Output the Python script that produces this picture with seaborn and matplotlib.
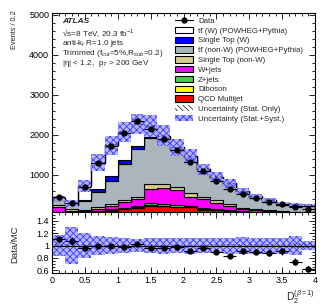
import matplotlib
matplotlib.use("Agg")
import matplotlib.pyplot as plt
from matplotlib.patches import Patch
from matplotlib.lines import Line2D
from matplotlib.ticker import MultipleLocator, FormatStrFormatter
import numpy as np
import pandas as pd
import seaborn as sns

# binning of D2 (beta=1), 0.2 wide
edges = np.round(np.arange(0, 4.01, 0.2), 1)
centers = 0.5 * (edges[1:] + edges[:-1])

data = [458, 304, 700, 1292, 1725, 2042, 2350, 2138, 1905, 1637,
        1332, 1100, 846, 655, 535, 417, 330, 270, 192, 153]

# MC backgrounds (events per bin)
tt_w = [6, 21, 354, 663, 767, 709, 557, 265, 96, 28, 22, 15, 20, 19, 8, 13, 12, 10, 7, 5]
stop_w = [35, 20, 25, 67, 117, 100, 75, 45, 55, 50, 50, 40, 40, 35, 30, 30, 28, 25, 22, 20]
tt_nonw = [127, 95, 226, 385, 582, 908, 1192, 1153, 1064, 912,
           850, 634, 515, 461, 376, 272, 220, 167, 145, 144]
stop_nonw = [55, 45, 25, 30, 45, 35, 65, 120, 85, 80, 85, 65, 65, 50, 30, 25, 15, 10, 10, 8]
wjets = [135, 45, 30, 65, 90, 150, 160, 355, 410, 365, 220, 215, 160, 110, 50, 50, 40, 38, 35, 37]
zjets = [15, 12, 15, 20, 25, 35, 45, 50, 50, 45, 40, 35, 30, 25, 20, 15, 12, 10, 8, 6]
diboson = [3, 3, 4, 5, 6, 7, 8, 9, 9, 8, 7, 6, 5, 4, 4, 3, 3, 2, 2, 2]
qcd = [40, 40, 50, 70, 110, 140, 180, 230, 215, 200, 190, 135, 115, 85, 70, 55, 45, 35, 30, 25]

# relative uncertainties on the MC total
syst_rel = [0.17, 0.30, 0.20, 0.16, 0.14, 0.12, 0.11, 0.12, 0.13, 0.12,
            0.13, 0.12, 0.12, 0.13, 0.14, 0.13, 0.13, 0.13, 0.15, 0.07]
stat_rel = [0.02, 0.03, 0.02, 0.015, 0.015, 0.012, 0.012, 0.012, 0.013, 0.014,
            0.015, 0.016, 0.018, 0.02, 0.022, 0.025, 0.028, 0.03, 0.035, 0.04]

labels = ["tt\u0304 (W) (POWHEG+Pythia)", "Single Top (W)",
          "tt\u0304 (non-W) (POWHEG+Pythia)", "Single Top (non-W)",
          "W+jets", "Z+jets", "Diboson", "QCD Multijet"]
values = [tt_w, stop_w, tt_nonw, stop_nonw, wjets, zjets, diboson, qcd]
colors = ["#ffffff", "#0000ff", "#aab5bd", "#d6cc8c", "#ff00ff", "#44d044", "#ffff00", "#ff0000"]

rows = []
for lab, vals in zip(labels, values):
    for c, v in zip(centers, vals):
        rows.append({"x": c, "w": v, "process": lab})
df = pd.DataFrame(rows)

mc = np.sum(np.array(values, dtype=float), axis=0)
data = np.array(data, dtype=float)
syst_rel = np.array(syst_rel)
stat_rel = np.array(stat_rel)

sns.set_theme(style="ticks")
plt.rcParams['font.family'] = ['Liberation Sans', 'DejaVu Sans']
plt.rcParams['mathtext.fontset'] = 'custom'
plt.rcParams['mathtext.rm'] = 'Liberation Sans'
plt.rcParams['mathtext.it'] = 'Liberation Sans:italic'
plt.rcParams['mathtext.bf'] = 'Liberation Sans:bold'
plt.rcParams['hatch.linewidth'] = 0.6

fig = plt.figure(figsize=(3.32, 3.05), dpi=100)
W, H = 332, 305
L, R = 52 / W, 315 / W
ax = fig.add_axes([L, 1 - 212 / H, R - L, (212 - 13) / H])
ax2 = fig.add_axes([L, 1 - 273 / H, R - L, (273 - 212) / H])

# stacked backgrounds (first hue level ends up on top)
sns.histplot(data=df, x="x", weights="w", hue="process", hue_order=labels,
             multiple="stack", bins=[float(e) for e in edges], element="step", fill=True,
             palette=dict(zip(labels, colors)), alpha=1, edgecolor="black",
             linewidth=0.8, legend=False, ax=ax)

ax.stairs(mc, edges, color="black", linewidth=1.0)

# uncertainty bands
syst_face = "#b0b0ff"
syst_hatch = "#2e2eff"
ax.stairs(mc * (1 + syst_rel), edges, baseline=mc * (1 - syst_rel), fill=True,
          facecolor=syst_face, edgecolor=syst_hatch, hatch="xxxxx", linewidth=0, alpha=0.9)
ax.stairs(mc * (1 + stat_rel), edges, baseline=mc * (1 - stat_rel), fill=True,
          facecolor="none", edgecolor="#333333", hatch="\\\\\\\\\\\\", linewidth=0)

ax.errorbar(centers, data, xerr=0.1, yerr=np.sqrt(data), fmt="o", color="black",
            ms=3.5, lw=0.8, capsize=0, zorder=10)

ax.set_xlim(0, 4)
ax.set_ylim(75, 5050)
ax.set_xlabel("")
ax.set_ylabel("")
ax.xaxis.set_major_locator(MultipleLocator(0.5))
ax.xaxis.set_minor_locator(MultipleLocator(0.1))
ax.yaxis.set_major_locator(MultipleLocator(1000))
ax.yaxis.set_minor_locator(MultipleLocator(200))
ax.tick_params(labelbottom=False)

# ratio panel
ratio = data / mc
ax2.stairs(1 + syst_rel, edges, baseline=1 - syst_rel, fill=True,
           facecolor=syst_face, edgecolor=syst_hatch, hatch="xxxxx", linewidth=0, alpha=0.9)
ax2.stairs(1 + stat_rel, edges, baseline=1 - stat_rel, fill=True,
           facecolor="none", edgecolor="#333333", hatch="\\\\\\\\\\\\", linewidth=0)
ax2.axhline(1, color="black", lw=0.8)
ax2.errorbar(centers, ratio, xerr=0.1, yerr=np.sqrt(data) / mc, fmt="o", color="black",
             ms=3.5, lw=0.8, capsize=0, zorder=10)
ax2.set_xlim(0, 4)
ax2.set_ylim(0.555, 1.545)
ax2.xaxis.set_major_locator(MultipleLocator(0.5))
ax2.xaxis.set_minor_locator(MultipleLocator(0.1))
ax2.yaxis.set_major_locator(MultipleLocator(0.2))
ax2.yaxis.set_minor_locator(MultipleLocator(0.05))
ax2.xaxis.set_major_formatter(FormatStrFormatter("%g"))
ax2.yaxis.set_major_formatter(FormatStrFormatter("%g"))

for a in (ax, ax2):
    a.tick_params(which="both", direction="in", top=True, right=True,
                  labelsize=6.5, pad=2, width=0.6, colors="black")
    a.tick_params(which="major", length=4)
    a.tick_params(which="minor", length=2)
    for s in a.spines.values():
        s.set_linewidth(0.8)
        s.set_color("black")

fig.text(15 / W, 1 - 10 / H, "Events / 0.2", rotation=90, ha="center", va="top", fontsize=5.3)
fig.text(15 / W, 1 - 244 / H, "Data/MC", rotation=90, ha="center", va="center", fontsize=6.8)
fig.text(315 / W, 1 - 297 / H, "D$_2^{(\\beta=1)}$", ha="right", va="center", fontsize=7.5)

# labels
tx = 0.038
ax.text(tx, 0.955, "ATLAS", transform=ax.transAxes, fontsize=6, fontweight="bold",
        fontstyle="italic", va="center")
ax.text(tx, 0.90, "√s=8 TeV, 20.3 fb$^{-1}$", transform=ax.transAxes, fontsize=5.9, va="center")
ax.text(tx, 0.849, "anti-k$_{t}$ R=1.0 jets", transform=ax.transAxes, fontsize=5.9, va="center")
ax.text(tx, 0.794, "Trimmed (f$_{cut}$=5%,R$_{sub}$=0.2)", transform=ax.transAxes,
        fontsize=5.9, va="center")
ax.text(tx, 0.744, "|η| < 1.2,  p$_{T}$ > 200 GeV", transform=ax.transAxes, fontsize=5.9,
        va="center")

handles = [Line2D([], [], color="black", marker="o", ms=3.5, lw=0.8)]
for c in colors:
    handles.append(Patch(facecolor=c, edgecolor="black", linewidth=0.8))
handles.append(Patch(facecolor="white", edgecolor="#333333", hatch="\\\\\\\\\\\\", linewidth=0))
handles.append(Patch(facecolor=syst_face, edgecolor=syst_hatch, hatch="xxxxx", linewidth=0))
leg_labels = ["Data"] + labels + ["Uncertainty (Stat. Only)", "Uncertainty (Stat.+Syst.)"]
ax.legend(handles, leg_labels, loc="upper left",
          bbox_to_anchor=((175 - 52) / 263, 1 - (17 - 13) / 199),
          frameon=False, fontsize=5.7, handlelength=2.3, handleheight=0.85,
          labelspacing=0.24, borderaxespad=0, borderpad=0, handletextpad=0.6)

fig.savefig("out.png", dpi=100)
